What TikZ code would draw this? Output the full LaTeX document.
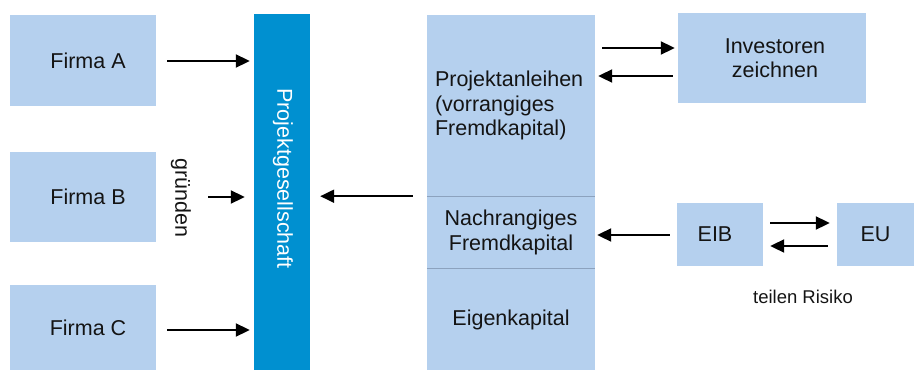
\documentclass[tikz,border=0pt]{standalone}
\usepackage{fontspec}
\setmainfont{Liberation Sans}
\usepackage{xcolor}
\usepackage{tikz}
\usetikzlibrary{arrows.meta, calc, positioning}
\definecolor{boxfill}{RGB}{181,208,238}
\definecolor{barfill}{RGB}{0,144,208}
\definecolor{divider}{RGB}{140,162,190}
\definecolor{textcol}{RGB}{20,20,20}

\begin{document}
\begin{tikzpicture}[x=1pt, y=-1pt, font=\fontsize{21.5}{24.5}\selectfont, text=textcol,
  box/.style={fill=boxfill, inner sep=0pt, align=center},
  arr/.style={-{Triangle[length=14pt,width=13pt]}, line width=2pt}]
\useasboundingbox (0,0) rectangle (914,370);

\node(firmaA)[box, minimum width=146pt, minimum height=91pt] at (83,60.5) {\hspace{10pt}Firma A};
\node(firmaB)[box, minimum width=146pt, minimum height=90pt] at (83,197) {\hspace{10pt}Firma B};
\node(firmaC)[box, minimum width=146pt, minimum height=85pt] at (83,327.5) {\hspace{10pt}Firma C};

\node(pg)[fill=barfill, inner sep=0pt, minimum width=56pt, minimum height=356pt] at (282,192) {};
\node(pgtext)[rotate=-90, text=white] at (283,178.5) {Projektgesellschaft};
\node(gruenden)[rotate=-90] at (181,198) {gründen};

\node(anleihen)[box, align=left, inner xsep=8pt, text width=152pt, minimum height=181pt] at (511,105.5)
  {Projektanleihen\\(vorrangiges\\Fremdkapital)};
\node(nachrang)[box, minimum width=168pt, minimum height=73pt] at (511,232.5) {Nachrangiges\\Fremdkapital};
\node(eigen)[box, minimum width=168pt, minimum height=101pt] at (511,319.5) {Eigenkapital};
\draw[divider, line width=1.2pt] (anleihen.south west) -- (anleihen.south east);
\draw[divider, line width=1.2pt] (eigen.north west) -- (eigen.north east);

\node(invest)[box, minimum width=188pt, minimum height=90pt] at (772,58) {\hspace{6pt}Investoren\\\hspace{6pt}zeichnen};
\node(eib)[box, minimum width=86pt, minimum height=63pt] at (720,234.5) {EIB\hspace{10pt}};
\node(eu)[box, minimum width=77pt, minimum height=63pt] at (875.5,234.5) {EU};
\node(risiko)[font=\fontsize{18.5}{22}\selectfont] at (803,297) {teilen Risiko};

\begin{scope}[arr]
\coordinate (fa) at ([yshift=-0.5pt]firmaA.east);
\draw[shorten <=11pt, shorten >=4pt] (fa) -- (fa -| pg.west);
\draw[shorten <=52pt, shorten >=9pt] (firmaB.east) -- (firmaB.east -| pg.west);
\coordinate (fc) at ([yshift=-2.5pt]firmaC.east);
\draw[shorten <=11pt, shorten >=4pt] (fc) -- (fc -| pg.west);

\draw[shorten <=14pt, shorten >=10pt] (anleihen.south west) -- (anleihen.south west -| pg.east);

\coordinate (inv1) at ([yshift=10pt]invest.west);
\coordinate (inv2) at ([yshift=-18pt]invest.west);
\draw[shorten <=7pt, shorten >=3pt] (inv1 -| anleihen.east) -- (inv1);
\draw[shorten <=5pt, shorten >=3pt] (inv2) -- (inv2 -| anleihen.east);

\coordinate (eb) at ([yshift=-0.5pt]eib.west);
\draw[shorten <=7pt, shorten >=2pt] (eb) -- (eb -| nachrang.east);
\coordinate (eu1) at ([yshift=11.5pt]eu.west);
\coordinate (eu2) at ([yshift=-11.5pt]eu.west);
\draw[shorten <=7pt, shorten >=7pt] (eu1 -| eib.east) -- (eu1);
\draw[shorten <=9pt, shorten >=7pt] (eu2) -- (eu2 -| eib.east);
\end{scope}
\end{tikzpicture}
\end{document}
